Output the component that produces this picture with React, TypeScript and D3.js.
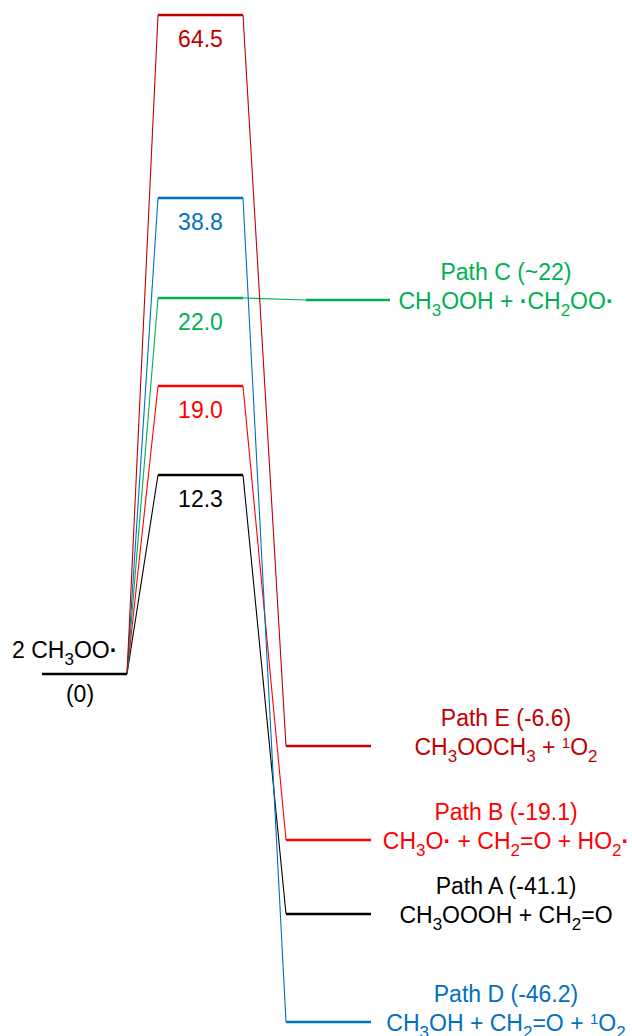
import React from "react";
import * as d3 from "d3";

// ---- data ----
const reactantLabel = "2 CH_3OO•";
const reactantEnergyLabel = "(0)";
const reactantEnergy = 0;

const pathIds = ["A", "B", "C", "D", "E"];
const tsEnergies = [12.3, 19.0, 22.0, 38.8, 64.5];
const tsLabels = ["12.3", "19.0", "22.0", "38.8", "64.5"];
const productEnergies = [-41.1, -19.1, 22.0, -46.2, -6.6];
const productTitles = [
  "Path A (-41.1)",
  "Path B (-19.1)",
  "Path C (~22)",
  "Path D (-46.2)",
  "Path E (-6.6)",
];
const productFormulas = [
  "CH_3OOOH + CH_2=O",
  "CH_3O• + CH_2=O + HO_2•",
  "CH_3OOH + •CH_2OO•",
  "CH_3OH + CH_2=O + ^1O_2",
  "CH_3OOCH_3 + ^1O_2",
];
const pathColors = ["#000000", "#ff0000", "#00b050", "#0070c0", "#c00000"];

// schematic (not to scale) energy axis
const energyDomain = [-46.2, -41.1, -19.1, -6.6, 0, 12.3, 19.0, 22.0, 38.8, 64.5];
const yPositions = [1022, 914, 840, 746, 674, 475, 386, 298, 198, 15];

const W = 632;
const H = 1036;
const FONT = "'Liberation Sans', Arial, Helvetica, sans-serif";
const FS = 23;

type Seg = { t: string; k: "n" | "sub" | "sup" | "dot" };

function parseRich(s: string): Seg[] {
  const out: Seg[] = [];
  let buf = "";
  const flush = () => {
    if (buf) out.push({ t: buf, k: "n" });
    buf = "";
  };
  for (let i = 0; i < s.length; i++) {
    const c = s[i];
    if (c === "_" || c === "^") {
      flush();
      out.push({ t: s[i + 1], k: c === "_" ? "sub" : "sup" });
      i++;
    } else if (c === "•") {
      flush();
      out.push({ t: "·", k: "dot" });
    } else buf += c;
  }
  flush();
  return out;
}

function RichText(props: {
  x: number;
  y: number;
  s: string;
  fill: string;
  anchor?: string;
}) {
  const segs = parseRich(props.s);
  let shift = 0;
  const spans = segs.map((sg, i) => {
    let target = 0;
    let fs = FS;
    let weight: any = "normal";
    if (sg.k === "sub") {
      target = 7;
      fs = 17;
    } else if (sg.k === "sup") {
      target = -7;
      fs = 15;
    } else if (sg.k === "dot") {
      weight = "bold";
    }
    const dy = target - shift;
    shift = target;
    return (
      <tspan key={i} dy={dy} fontSize={fs} fontWeight={weight}>
        {sg.t}
      </tspan>
    );
  });
  return (
    <text
      x={props.x}
      y={props.y}
      fill={props.fill}
      textAnchor={props.anchor || "middle"}
      fontFamily={FONT}
      fontSize={FS}
      style={{ whiteSpace: "pre" }}
    >
      {spans}
    </text>
  );
}

export default function App() {
  const y = d3.scaleLinear().domain(energyDomain).range(yPositions);

  const rx0 = 42,
    rx1 = 127;
  const tx0 = 158,
    tx1 = 243;
  const px0 = 286,
    px1 = 371;
  const cx0 = 306,
    cx1 = 390;
  const labelX = 506;

  const thick = 2.6;
  const thin = 1.1;

  const yR = y(reactantEnergy);

  return (
    <svg
      width={W}
      height={H}
      style={{ position: "absolute", left: 0, top: 0, background: "#fff" }}
    >
      {/* connectors */}
      {pathIds.map((id, i) => {
        const yt = y(tsEnergies[i]);
        const yp = y(productEnergies[i]);
        const isC = id === "C";
        return (
          <g key={"c" + id} stroke={pathColors[i]} strokeWidth={thin} fill="none">
            <line x1={rx1} y1={yR} x2={tx0} y2={yt} />
            <line x1={tx1} y1={yt} x2={isC ? cx0 : px0} y2={isC ? yp + 2 : yp} />
          </g>
        );
      })}

      {/* reactant */}
      <line x1={rx0} x2={rx1} y1={yR} y2={yR} stroke="#000" strokeWidth={thick} />
      <RichText x={12} y={yR - 16} s={reactantLabel} fill="#000" anchor="start" />
      <text
        x={80}
        y={yR + 28}
        textAnchor="middle"
        fontFamily={FONT}
        fontSize={FS}
        fill="#000"
      >
        {reactantEnergyLabel}
      </text>

      {/* transition states */}
      {pathIds.map((id, i) => {
        const yt = y(tsEnergies[i]);
        return (
          <g key={"t" + id}>
            <line x1={tx0} x2={tx1} y1={yt} y2={yt} stroke={pathColors[i]} strokeWidth={thick} />
            <text
              x={(tx0 + tx1) / 2}
              y={yt + 32}
              textAnchor="middle"
              fontFamily={FONT}
              fontSize={FS}
              fill={pathColors[i]}
            >
              {tsLabels[i]}
            </text>
          </g>
        );
      })}

      {/* products */}
      {pathIds.map((id, i) => {
        const isC = id === "C";
        const yp = y(productEnergies[i]) + (isC ? 2 : 0);
        return (
          <g key={"p" + id}>
            <line
              x1={isC ? cx0 : px0}
              x2={isC ? cx1 : px1}
              y1={yp}
              y2={yp}
              stroke={pathColors[i]}
              strokeWidth={thick}
            />
            <text
              x={labelX}
              y={yp - 20}
              textAnchor="middle"
              fontFamily={FONT}
              fontSize={FS}
              fill={pathColors[i]}
            >
              {productTitles[i]}
            </text>
            <RichText x={labelX} y={yp + 9} s={productFormulas[i]} fill={pathColors[i]} />
          </g>
        );
      })}
    </svg>
  );
}
